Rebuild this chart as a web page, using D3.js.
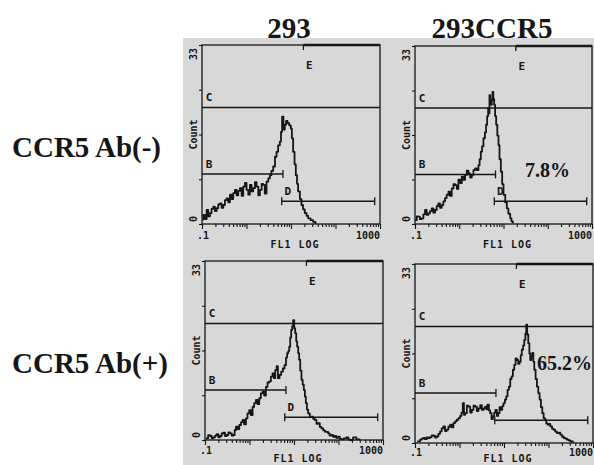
<!DOCTYPE html>
<html><head><meta charset="utf-8">
<script src="https://cdn.jsdelivr.net/npm/d3@7"></script>
<style>body{margin:0;background:#fff} svg{display:block}</style>
</head><body>
<svg id="c" width="594" height="465"></svg>
<script>
// ---------- data ----------
const columnTitles = ["293", "293CCR5"];
const rowTitles = ["CCR5 Ab(-)", "CCR5 Ab(+)"];
const percentLabels = ["", "7.8%", "", "65.2%"];
const xTickLabels = [".1", "1000"];
const yTickLabels = ["0", "33"];
const xAxisTitle = "FL1 LOG";
const yAxisTitle = "Count";
const xDomain = [0.1, 1000];
const yDomain = [0, 33];
const yTickMarks = [0, 8.25, 16.5, 24.75, 33];

// gates (region markers)
const gateNames = ["B", "C", "D", "E"];
const gateCounts = [9.2, 21.5, 4.2, 33];
const gateFrom = [0.1, 0.1, 6.2, 19];
const gateTo = [6.6, 1000, 760, 1000];

// histograms: log10(FL1) positions and counts
const h293NegLog = [-0.99,-0.971,-0.934,-0.896,-0.86,-0.821,-0.785,-0.747,-0.71,-0.672,-0.635,-0.597,-0.56,-0.522,-0.485,-0.447,-0.41,-0.373,-0.335,-0.298,-0.26,-0.223,-0.185,-0.148,-0.11,-0.073,-0.035,0.001,0.04,0.076,0.115,0.151,0.19,0.226,0.265,0.30,0.34,0.375,0.41,0.45,0.49,0.525,0.56,0.60,0.64,0.674,0.71,0.749,0.775,0.80,0.83,0.861,0.89,0.921,0.96,0.996,1.02,1.048,1.08,1.108,1.135,1.16,1.2,1.235,1.27,1.31,1.35,1.385,1.44,1.497,1.55];
const h293NegCount = [0.8,1.7,0.9,2.6,1.4,2.0,2.8,3.2,2.4,2.9,3.6,3.8,3.0,3.5,4.4,4.7,4.0,5.4,4.6,5.7,6.3,5.3,6.1,6.6,5.2,6.9,7.6,6.3,5.4,7.2,6.0,6.6,7.7,6.9,5.3,6.3,7.4,7.2,5.6,7.8,8.4,9.0,9.8,10.6,12.4,13.3,14.5,15.2,17.0,19.8,17.4,18.3,19.0,18.6,18.2,17.6,15.8,13.3,11.0,9.0,7.4,6.0,4.6,3.5,2.7,2.0,1.5,1.05,0.7,0.4,0];

const hCcr5NegLog = [-1.0,-0.96,-0.925,-0.89,-0.849,-0.81,-0.774,-0.735,-0.698,-0.66,-0.623,-0.585,-0.547,-0.51,-0.472,-0.435,-0.396,-0.36,-0.321,-0.285,-0.245,-0.21,-0.17,-0.13,-0.094,-0.055,-0.019,0.02,0.057,0.095,0.132,0.17,0.207,0.245,0.283,0.32,0.358,0.395,0.434,0.46,0.487,0.515,0.547,0.58,0.607,0.63,0.653,0.668,0.683,0.70,0.721,0.735,0.751,0.77,0.789,0.81,0.834,0.86,0.887,0.91,0.94,0.97,1.0,1.04,1.075,1.11,1.151,1.18,1.211];
const hCcr5NegCount = [0.7,1.4,1.36,0.9,1.05,1.8,2.6,1.7,1.97,2.4,2.9,2.1,2.6,3.3,3.8,3.0,3.5,4.2,4.8,5.4,6.0,5.2,6.6,7.4,7.2,6.5,8.2,7.6,8.8,8.2,9.1,9.9,9.4,8.6,9.1,10.0,10.3,10.0,10.9,12.0,13.4,14.4,15.9,17.0,18.4,20.0,21.5,20.5,23.9,22.6,22.1,23.0,24.5,23.2,22.1,20.0,18.4,16.4,14.6,12.0,9.7,7.4,5.4,4.0,2.9,1.9,1.05,0.5,0.1];

const h293PosLog = [-0.978,-0.93,-0.888,-0.85,-0.813,-0.775,-0.738,-0.70,-0.664,-0.625,-0.589,-0.55,-0.514,-0.475,-0.439,-0.40,-0.364,-0.335,-0.305,-0.27,-0.23,-0.19,-0.155,-0.12,-0.08,-0.045,-0.006,0.03,0.069,0.105,0.144,0.18,0.219,0.255,0.294,0.33,0.368,0.405,0.443,0.48,0.518,0.55,0.578,0.61,0.638,0.675,0.712,0.75,0.787,0.82,0.847,0.87,0.892,0.915,0.937,0.96,0.981,1.005,1.026,1.05,1.071,1.095,1.116,1.14,1.168,1.195,1.221,1.245,1.266,1.29,1.318,1.355,1.393,1.43,1.468,1.505,1.542,1.58,1.617,1.655,1.692,1.73,1.767,1.80,1.842,1.88,1.916,1.95,1.991,2.03,2.066,2.12,2.178,2.22,2.253,2.327,2.402,2.477];
const h293PosCount = [0.31,0.9,0.74,0.3,0.49,0.8,1.1,0.5,0.74,1.2,1.35,0.7,0.92,1.4,1.23,0.8,0.92,1.8,2.46,2.0,2.77,3.3,3.7,2.9,4.0,4.9,5.5,4.6,6.1,6.8,7.4,6.6,7.7,8.6,8.9,8.2,9.8,10.6,10.8,11.7,12.3,11.4,12.9,13.6,11.4,12.0,12.6,13.2,13.8,15.2,16.0,16.4,17.2,18.9,20.3,21.0,22.1,20.6,19.7,18.2,17.2,16.0,14.8,12.8,11.1,10.2,9.2,8.0,6.8,5.6,4.9,4.3,4.3,3.9,3.7,3.0,3.1,2.4,2.15,1.8,1.54,1.5,1.23,0.8,0.92,0.6,0.74,0.4,0.61,0.2,0.12,0.3,0.49,0.1,0,0.49,0.12,0];

const hCcr5PosLog = [-0.95,-0.887,-0.85,-0.812,-0.775,-0.737,-0.70,-0.662,-0.625,-0.587,-0.55,-0.512,-0.475,-0.437,-0.40,-0.362,-0.325,-0.287,-0.25,-0.212,-0.175,-0.137,-0.10,-0.062,-0.025,0.014,0.045,0.074,0.10,0.126,0.165,0.201,0.24,0.276,0.315,0.351,0.39,0.426,0.465,0.502,0.54,0.577,0.605,0.629,0.66,0.689,0.72,0.749,0.78,0.809,0.84,0.869,0.9,0.929,0.96,0.989,1.02,1.05,1.08,1.11,1.14,1.17,1.2,1.23,1.26,1.29,1.32,1.35,1.375,1.40,1.43,1.455,1.48,1.50,1.52,1.545,1.57,1.59,1.615,1.635,1.66,1.68,1.71,1.74,1.77,1.80,1.83,1.86,1.89,1.92,1.95,1.98,2.01,2.04,2.08,2.115,2.15,2.19,2.23,2.266,2.30,2.34,2.38,2.416,2.45,2.49,2.55];
const hCcr5PosCount = [0.3,0.61,0.8,0.92,0.7,1.03,0.9,1.1,1.4,1.34,1.0,1.22,1.7,2.14,2.7,3.06,2.2,2.45,3.0,3.37,2.9,3.68,4.0,4.29,4.6,5.0,5.6,7.36,5.2,5.5,6.9,6.7,5.6,6.1,6.9,6.7,5.9,6.4,7.0,6.1,6.4,6.7,6.2,7.05,6.0,5.5,4.4,4.9,5.6,6.1,5.0,5.5,6.6,6.1,6.8,7.36,8.0,8.6,9.8,10.4,11.8,12.3,13.5,14.4,15.6,15.3,14.6,15.0,16.2,17.2,18.0,19.0,20.2,21.8,20.0,18.4,16.5,15.3,16.0,16.6,15.0,13.5,11.8,10.4,9.2,8.0,6.6,5.5,4.6,4.3,3.6,3.37,3.5,3.06,2.6,2.45,2.1,1.84,1.9,1.53,1.2,0.92,0.8,0.61,0.5,0.3,0.1];

// ---------- layout ----------
const panels = [
  {x0:202, x1:380, y0:45,  y1:224, logs:h293NegLog,  counts:h293NegCount,  gateLabel:[true,true,true,true], tickOff:11, titleOff:20},
  {x0:415, x1:592, y0:46,  y1:224, logs:hCcr5NegLog, counts:hCcr5NegCount, gateLabel:[true,true,true,true], tickOff:11, titleOff:20},
  {x0:205, x1:383, y0:261, y1:440, logs:h293PosLog,  counts:h293PosCount,  gateLabel:[true,true,true,true], tickOff:10, titleOff:18},
  {x0:415, x1:593, y0:264, y1:443, logs:hCcr5PosLog, counts:hCcr5PosCount, gateLabel:[true,true,false,true], tickOff:9, titleOff:15}
];
const ink = "#161616";
const mono = "'DejaVu Sans Mono', 'Liberation Mono', monospace";
const serif = "'Liberation Serif', 'Times New Roman', serif";

const svg = d3.select("#c");
svg.append("rect").attr("x", 183).attr("y", 38).attr("width", 411).attr("height", 427).attr("fill", "#d8d8d8");

// column and row titles
const colCenters = [289, 492];
columnTitles.forEach((t, i) => {
  svg.append("text").attr("x", colCenters[i]).attr("y", 38).attr("text-anchor", "middle")
    .attr("font-family", serif).attr("font-weight", "bold").attr("font-size", 29).attr("fill", ink).text(t);
});
const rowBaselines = [157, 373];
rowTitles.forEach((t, i) => {
  svg.append("text").attr("x", 12).attr("y", rowBaselines[i])
    .attr("font-family", serif).attr("font-weight", "bold").attr("font-size", 29).attr("fill", ink).text(t);
});

panels.forEach((p, i) => {
  const x = d3.scaleLog().domain(xDomain).range([p.x0, p.x1]);
  const y = d3.scaleLinear().domain(yDomain).range([p.y1, p.y0]);
  const g = svg.append("g");

  // frame
  g.append("rect").attr("x", p.x0).attr("y", p.y0).attr("width", p.x1 - p.x0).attr("height", p.y1 - p.y0)
    .attr("fill", "none").attr("stroke", ink).attr("stroke-width", 1.3);

  // x axis (log ticks)
  const xa = g.append("g").attr("transform", `translate(0,${p.y1})`)
    .call(d3.axisBottom(x).ticks(10).tickSize(3).tickFormat(""));
  xa.select(".domain").remove();
  xa.selectAll(".tick line").attr("stroke", ink).attr("stroke-width", 1.1)
    .attr("y2", d => Math.abs(Math.log10(d) - Math.round(Math.log10(d))) < 1e-6 ? 5 : 3);

  // y axis ticks
  const ya = g.append("g").attr("transform", `translate(${p.x0},0)`)
    .call(d3.axisLeft(y).tickValues(yTickMarks).tickSize(3).tickFormat(""));
  ya.select(".domain").remove();
  ya.selectAll(".tick line").attr("stroke", ink).attr("stroke-width", 1.1);

  // axis labels
  const lbl = (tx, ty, txt, anchor, rot, size) => {
    const t = g.append("text").attr("x", tx).attr("y", ty).attr("text-anchor", anchor)
      .attr("dominant-baseline", "central").attr("font-family", mono).attr("font-weight", "bold")
      .attr("font-size", size || 10).attr("fill", ink).text(txt);
    if (rot) t.attr("transform", `rotate(-90,${tx},${ty})`);
    return t;
  };
  lbl(x(xDomain[0]) + 1, p.y1 + p.tickOff, xTickLabels[0], "middle");
  lbl(x(xDomain[1]), p.y1 + p.tickOff, xTickLabels[1], "end");
  lbl((p.x0 + p.x1) / 2 + 4, p.y1 + p.titleOff, xAxisTitle, "middle").attr("letter-spacing", 1);
  lbl(p.x0 - 9, y(yDomain[1]) + 9, yTickLabels[1], "middle", true);
  lbl(p.x0 - 9, y(yDomain[0]) - 5, yTickLabels[0], "middle", true);
  lbl(p.x0 - 9, (p.y0 + p.y1) / 2, yAxisTitle, "middle", true);

  // gates
  gateNames.forEach((name, k) => {
    const gy = y(gateCounts[k]);
    const gx0 = x(gateFrom[k]), gx1 = x(gateTo[k]);
    g.append("line").attr("x1", gx0).attr("x2", gx1).attr("y1", gy).attr("y2", gy)
      .attr("stroke", ink).attr("stroke-width", name === "E" ? 2.4 : 1.5);
    const tick = (tx, up, down) => g.append("line").attr("x1", tx).attr("x2", tx)
      .attr("y1", gy - up).attr("y2", gy + down).attr("stroke", ink).attr("stroke-width", 1.3);
    if (name === "B") tick(gx1, 4, 4);
    if (name === "D") { tick(gx0, 4, 4); tick(gx1, 4, 4); }
    if (name === "E") { tick(gx0, 0, 5); }
    if (!p.gateLabel[k]) return;
    let lx, ly;
    if (name === "E") { lx = gx0 + 6; ly = y(yDomain[1]) + 20; }
    else if (name === "D") { lx = gx0 + 6; ly = gy - 10; }
    else { lx = p.x0 + 7; ly = gy - 10; }
    lbl(lx, ly, name, "middle", false, 11);
  });

  // histogram
  const pts = p.logs.map((v, j) => [Math.pow(10, v), p.counts[j]]);
  g.append("path").datum(pts)
    .attr("d", d3.line().x(d => x(d[0])).y(d => y(d[1])).curve(d3.curveStepAfter))
    .attr("fill", "none").attr("stroke", ink).attr("stroke-width", 1.8).attr("stroke-linejoin", "round");

  // percentage
  if (percentLabels[i]) {
    const pos = i === 1 ? [525, 177] : [537, 370];
    svg.append("text").attr("x", pos[0]).attr("y", pos[1]).attr("font-family", serif)
      .attr("font-weight", "bold").attr("font-size", 20).attr("fill", ink).text(percentLabels[i]);
  }
});
</script>
</body></html>
